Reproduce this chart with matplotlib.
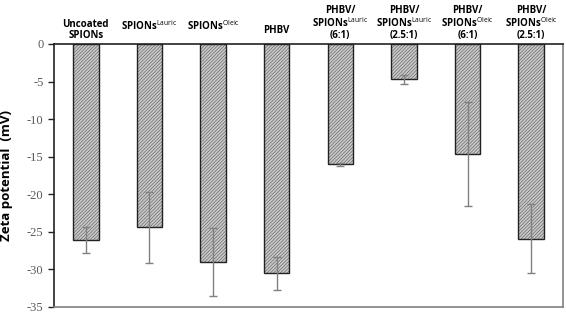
import numpy as np
import matplotlib
matplotlib.use("Agg")
import matplotlib.pyplot as plt
import matplotlib.transforms as mtransforms

# data
labels = [
    "Uncoated\nSPIONs",
    r"SPIONs$^{\mathrm{Lauric}}$",
    r"SPIONs$^{\mathrm{Oleic}}$",
    "PHBV",
    "PHBV/\n" + r"SPIONs$^{\mathrm{Lauric}}$" + "\n(6:1)",
    "PHBV/\n" + r"SPIONs$^{\mathrm{Lauric}}$" + "\n(2.5:1)",
    "PHBV/\n" + r"SPIONs$^{\mathrm{Oleic}}$" + "\n(6:1)",
    "PHBV/\n" + r"SPIONs$^{\mathrm{Oleic}}$" + "\n(2.5:1)",
]
zeta = [-26.1, -24.4, -29.0, -30.5, -16.0, -4.7, -14.6, -25.9]
err = [1.7, 4.7, 4.5, 2.2, 0.2, 0.6, 6.9, 4.6]
yticks = [0, -5, -10, -15, -20, -25, -30, -35]

# label vertical positions (axes fraction, above the plot)
label_y = [1.01, 1.04, 1.04, 1.03, 1.01, 1.01, 1.01, 1.01]

plt.rcParams["mathtext.fontset"] = "custom"
plt.rcParams["mathtext.rm"] = "Open Sans"
plt.rcParams["hatch.linewidth"] = 0.25
plt.rcParams["hatch.color"] = "#bababa"

fig = plt.figure(figsize=(5.66, 3.14), dpi=100)
ax = fig.add_axes([0.0954, 0.0223, 0.8993, 0.8376])

x = np.arange(len(zeta))
ax.bar(x, zeta, width=0.4, color="#c6c6c6", edgecolor="#222222",
       linewidth=1.0, hatch="//////////", zorder=2)
ax.errorbar(x, zeta, yerr=err, fmt="none", ecolor="#808080",
            elinewidth=1.0, capsize=3, capthick=1.0, zorder=3)

ax.set_xlim(-0.5, len(zeta) - 0.5)
ax.set_ylim(-35, 0)
ax.set_yticks(yticks)
ax.set_yticklabels([str(v) for v in yticks], family="Liberation Serif",
                   fontsize=9, color="#595959")
ax.set_xticks([])
ax.tick_params(axis="y", direction="out", length=4, width=1, color="#222222")
ax.set_ylabel("Zeta potential  (mV)", fontsize=9.5, fontweight="bold",
              family="Open Sans")
ax.yaxis.set_label_coords(-0.08, 0.5)

for side in ["left", "top"]:
    ax.spines[side].set_color("#222222")
    ax.spines[side].set_linewidth(1.2)
for side in ["right", "bottom"]:
    ax.spines[side].set_color("#808080")
    ax.spines[side].set_linewidth(1.2)

trans = mtransforms.blended_transform_factory(ax.transData, ax.transAxes)
for xi, lab, ly in zip(x, labels, label_y):
    ax.text(xi, ly, lab, transform=trans, ha="center", va="bottom",
            fontsize=7, fontweight="bold", family="Open Sans",
            linespacing=1.05, multialignment="center")

fig.savefig("out.png", dpi=100)
